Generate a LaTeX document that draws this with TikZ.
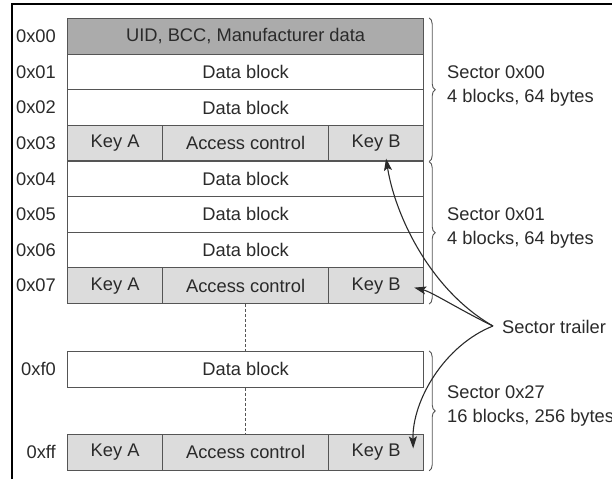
\documentclass[tikz,border=0pt]{standalone}
\usepackage{fontspec}
\setmainfont{Liberation Sans}
\usetikzlibrary{arrows.meta,decorations.pathreplacing,calc}
\definecolor{linec}{HTML}{555555}
\definecolor{textc}{HTML}{2A2A2A}
\definecolor{darkfill}{HTML}{ABABAB}
\definecolor{lightfill}{HTML}{DCDCDC}
\newcommand{\cellfont}{\fontsize{18.3}{24}\selectfont}
\tikzset{
  cell/.style={draw=linec, line width=1.2pt, minimum height=35.6pt, inner sep=0pt,
    anchor=north west, text=textc, font=\cellfont},
  full/.style={cell, minimum width=356pt},
  keya/.style={cell, minimum width=95pt, fill=lightfill},
  acc/.style={cell, minimum width=166pt, fill=lightfill},
  keyb/.style={cell, minimum width=95pt, fill=lightfill},
  addr/.style={anchor=east, text=textc, font=\cellfont, inner sep=0pt},
  sectxt/.style={anchor=west, align=left, text=textc, font=\cellfont, inner sep=0pt},
  sbrace/.style={draw=linec, line width=0.9pt, decorate, decoration={brace, amplitude=6pt}},
  trailarrow/.style={draw=textc, line width=1.1pt, -{Stealth[length=12pt,width=8pt,inset=2.5pt]}},
  dots/.style={draw=linec, line width=1pt, dashed, dash pattern=on 3pt off 2pt}
}
\begin{document}
\begin{tikzpicture}[x=1pt,y=-1pt]
\useasboundingbox (0,0) rectangle (612,479);
% frame
\draw[line width=1.5pt, black] (12,479) -- (12,4) -- (612,4);

% sector 0x00
\node[full, fill=darkfill] (u0) at (67,18) {UID, BCC, Manufacturer data};
\node[full] (d1) at (67,53.6) {Data block};
\node[full] (d2) at (67,89.2) {Data block};
\node[keya] (ka3) at (67,124.8) {Key A};
\node[acc] (ac3) at (162,124.8) {Access control};
\node[keyb] (kb3) at (328,124.8) {Key B};
% sector 0x01
\node[full] (d4) at (67,160.4) {Data block};
\node[full] (d5) at (67,196) {Data block};
\node[full] (d6) at (67,231.6) {Data block};
\node[keya] (ka7) at (67,267.2) {Key A};
\node[acc] (ac7) at (162,267.2) {Access control};
\node[keyb] (kb7) at (328,267.2) {Key B};
% sector 0x27
\node[full] (df0) at (67,351) {Data block};
\node[keya] (kaf) at (67,434) {Key A};
\node[acc] (acf) at (162,434) {Access control};
\node[keyb] (kbf) at (328,434) {Key B};

% addresses
\node[addr] (a00) at ($(u0.west)+(-11,0)$) {0x00};
\node[addr] (a01) at ($(d1.west)+(-11,0)$) {0x01};
\node[addr] (a02) at ($(d2.west)+(-11,0)$) {0x02};
\node[addr] (a03) at ($(ka3.west)+(-11,0)$) {0x03};
\node[addr] (a04) at ($(d4.west)+(-11,0)$) {0x04};
\node[addr] (a05) at ($(d5.west)+(-11,0)$) {0x05};
\node[addr] (a06) at ($(d6.west)+(-11,0)$) {0x06};
\node[addr] (a07) at ($(ka7.west)+(-11,0)$) {0x07};
\node[addr] (af0) at ($(df0.west)+(-11,0)$) {0xf0};
\node[addr] (aff) at ($(kaf.west)+(-11,0)$) {0xff};

% dashed continuation
\draw[dots] (ac7.south) -- (df0.north);
\draw[dots] (df0.south) -- (acf.north);

% braces
\draw[sbrace] ($(u0.north east)+(5,0)$) -- ($(kb3.south east)+(5,0)$);
\draw[sbrace] ($(kb3.south east)+(5,0)$) -- ($(kb7.south east)+(5,0)$);
\draw[sbrace] ($(df0.north east)+(5,0)$) -- ($(kbf.south east)+(5,0)$);

% sector texts
\node[sectxt] (s0) at (447,86) {Sector 0x00\\4 blocks, 64 bytes};
\node[sectxt] (s1) at (447,228.5) {Sector 0x01\\4 blocks, 64 bytes};
\node[sectxt] (s27) at (447,406.5) {Sector 0x27\\16 blocks, 256 bytes};

% sector trailer
\node[sectxt, inner sep=0pt] (trail) at (502,327) {Sector trailer};
\coordinate (conv) at ($(trail.west)+(-9,-1)$);
\coordinate (t3) at ($(kb3.south)+(10,-3)$);
\coordinate (t7) at ($(kb7.east)+(-10,2)$);
\coordinate (tf) at ($(kbf.east)+(-11,-4)$);
\draw[trailarrow] (conv) .. controls (430,290) and (395,215) .. (t3);
\draw[trailarrow] (conv) .. controls (460,310) and (432,292) .. (t7);
\draw[trailarrow] (conv) .. controls (445,345) and (412,400) .. (tf);
\end{tikzpicture}
\end{document}
